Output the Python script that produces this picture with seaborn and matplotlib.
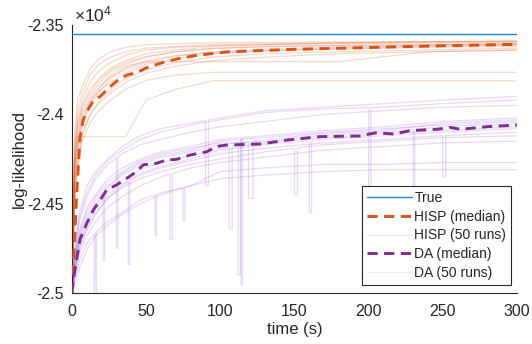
import numpy as np
import pandas as pd
import matplotlib
matplotlib.use("Agg")
import matplotlib.pyplot as plt
from matplotlib.lines import Line2D
from matplotlib.ticker import FuncFormatter
import seaborn as sns

# ---------------- data (log-likelihood in units of 1e4) ----------------
TRUE_LL = -2.3550

HISP_MED_T = [0, 1, 2, 3, 4.3, 5.4, 7.6, 11, 14, 19, 25, 30, 37, 44, 50, 62, 71, 84, 105, 150, 195, 240, 300]
HISP_MED_V = [-2.49, -2.482, -2.466, -2.448, -2.429, -2.413, -2.403, -2.397, -2.393, -2.390, -2.385, -2.3815,
              -2.378, -2.3765, -2.374, -2.3708, -2.369, -2.367, -2.365, -2.3636, -2.3627, -2.3618, -2.3608]

DA_MED_T = [0, 1, 5.4, 10, 14.4, 19, 23.4, 30, 37, 43.6, 48, 57, 64, 70.5, 80, 91, 97.6, 104, 127, 145,
            167, 194, 205, 217, 228, 246, 255, 262, 280, 300]
DA_MED_V = [-2.50, -2.492, -2.470, -2.461, -2.4535, -2.448, -2.4423, -2.4395, -2.4358, -2.432, -2.4283,
            -2.4274, -2.4255, -2.4252, -2.4227, -2.4209, -2.418, -2.4172, -2.4166, -2.4144, -2.4125, -2.4121,
            -2.4103, -2.411, -2.4091, -2.4084, -2.4073, -2.4084, -2.4069, -2.406]

HISP_RUN_T = [0, 1, 2, 4, 7, 12, 18, 26, 36, 50, 70, 95, 130, 180, 240, 300]
HISP_RUNS = [
    [-2.488, -2.452, -2.420, -2.405, -2.395, -2.386, -2.380, -2.374, -2.370, -2.366, -2.364, -2.362, -2.361, -2.360, -2.3595, -2.359],
    [-2.492, -2.470, -2.440, -2.425, -2.410, -2.400, -2.393, -2.386, -2.380, -2.375, -2.371, -2.368, -2.366, -2.365, -2.364, -2.363],
    [-2.485, -2.445, -2.412, -2.398, -2.388, -2.378, -2.372, -2.368, -2.365, -2.363, -2.362, -2.361, -2.3605, -2.360, -2.3595, -2.3592],
    [-2.495, -2.475, -2.450, -2.430, -2.415, -2.405, -2.398, -2.392, -2.386, -2.381, -2.378, -2.3765, -2.3765, -2.3765, -2.3765, -2.3765],
    [-2.490, -2.460, -2.430, -2.4125, -2.4125, -2.4125, -2.4125, -2.4125, -2.4125, -2.392, -2.386, -2.3812, -2.3812, -2.3812, -2.3812, -2.3812],
    [-2.490, -2.455, -2.425, -2.410, -2.398, -2.390, -2.383, -2.376, -2.372, -2.368, -2.365, -2.363, -2.362, -2.3615, -2.361, -2.3605],
    [-2.487, -2.448, -2.418, -2.402, -2.392, -2.382, -2.376, -2.371, -2.367, -2.364, -2.3625, -2.3615, -2.361, -2.3605, -2.360, -2.3598],
    [-2.493, -2.468, -2.438, -2.420, -2.405, -2.396, -2.388, -2.380, -2.374, -2.370, -2.367, -2.3655, -2.3645, -2.3635, -2.3625, -2.362],
    [-2.490, -2.460, -2.432, -2.416, -2.402, -2.393, -2.386, -2.378, -2.373, -2.3705, -2.3705, -2.3705, -2.3705, -2.3705, -2.365, -2.364],
    [-2.486, -2.442, -2.408, -2.392, -2.384, -2.375, -2.369, -2.365, -2.3625, -2.361, -2.3605, -2.360, -2.3597, -2.3595, -2.3592, -2.359],
    [-2.494, -2.472, -2.445, -2.428, -2.412, -2.401, -2.394, -2.388, -2.382, -2.377, -2.373, -2.370, -2.368, -2.366, -2.365, -2.364],
    [-2.489, -2.458, -2.428, -2.412, -2.400, -2.392, -2.385, -2.379, -2.375, -2.371, -2.3675, -2.365, -2.3635, -2.3625, -2.3615, -2.361],
    [-2.491, -2.465, -2.435, -2.418, -2.404, -2.394, -2.387, -2.382, -2.377, -2.372, -2.369, -2.366, -2.3645, -2.363, -2.362, -2.3612],
    [-2.488, -2.450, -2.422, -2.406, -2.396, -2.388, -2.381, -2.375, -2.371, -2.3675, -2.365, -2.3632, -2.3622, -2.3615, -2.361, -2.3605],
]

DA_RUN_T = [0, 2, 5, 10, 16, 24, 34, 46, 60, 80, 100, 130, 170, 210, 250, 300]
DA_RUNS = [
    [-2.50, -2.475, -2.455, -2.440, -2.432, -2.425, -2.418, -2.412, -2.408, -2.405, -2.402, -2.398, -2.396, -2.394, -2.392, -2.390],
    [-2.50, -2.492, -2.482, -2.472, -2.466, -2.460, -2.455, -2.448, -2.444, -2.440, -2.432, -2.430, -2.428, -2.428, -2.427, -2.427],
    [-2.50, -2.480, -2.465, -2.452, -2.445, -2.436, -2.430, -2.425, -2.421, -2.418, -2.414, -2.412, -2.409, -2.407, -2.404, -2.402],
    [-2.50, -2.488, -2.474, -2.465, -2.456, -2.447, -2.440, -2.434, -2.430, -2.426, -2.422, -2.419, -2.416, -2.414, -2.412, -2.410],
    [-2.50, -2.482, -2.468, -2.456, -2.448, -2.440, -2.433, -2.427, -2.423, -2.420, -2.415, -2.413, -2.410, -2.408, -2.406, -2.404],
    [-2.50, -2.490, -2.478, -2.468, -2.460, -2.452, -2.446, -2.440, -2.435, -2.430, -2.427, -2.424, -2.420, -2.418, -2.416, -2.415],
    [-2.50, -2.478, -2.460, -2.446, -2.436, -2.428, -2.422, -2.417, -2.414, -2.410, -2.407, -2.404, -2.400, -2.398, -2.396, -2.395],
    [-2.50, -2.486, -2.471, -2.460, -2.451, -2.443, -2.437, -2.431, -2.427, -2.423, -2.419, -2.416, -2.413, -2.411, -2.409, -2.407],
    [-2.50, -2.494, -2.486, -2.476, -2.468, -2.462, -2.456, -2.450, -2.445, -2.440, -2.436, -2.434, -2.432, -2.431, -2.431, -2.431],
    [-2.50, -2.484, -2.469, -2.458, -2.450, -2.441, -2.434, -2.428, -2.424, -2.421, -2.417, -2.4145, -2.4105, -2.409, -2.405, -2.403],
    [-2.50, -2.489, -2.476, -2.464, -2.455, -2.447, -2.441, -2.436, -2.432, -2.428, -2.425, -2.421, -2.417, -2.415, -2.413, -2.412],
    [-2.50, -2.476, -2.458, -2.444, -2.434, -2.426, -2.420, -2.414, -2.410, -2.406, -2.403, -2.399, -2.397, -2.396, -2.394, -2.392],
    [-2.50, -2.487, -2.473, -2.462, -2.453, -2.445, -2.439, -2.433, -2.429, -2.425, -2.420, -2.417, -2.414, -2.412, -2.410, -2.408],
    [-2.50, -2.481, -2.466, -2.454, -2.446, -2.438, -2.432, -2.426, -2.422, -2.419, -2.416, -2.4155, -2.4115, -2.410, -2.407, -2.405],
]

# temporary downward excursions of the DA chains: run index, start time, duration, low value
DA_SPIKE_RUN = [1, 3, 5, 7, 2, 9, 10, 12, 4, 6, 8, 11, 13, 0, 3, 1, 9]
DA_SPIKE_T = [15, 38, 66, 106, 114, 119, 150, 160, 112, 30, 75, 200, 230, 90, 250, 56, 21]
DA_SPIKE_DT = [1.5, 1.0, 1.5, 2.0, 1.0, 3.0, 2.0, 1.5, 1.5, 1.0, 1.0, 1.5, 1.0, 2.0, 2.0, 1.0, 1.0]
DA_SPIKE_LOW = [-2.50, -2.484, -2.470, -2.464, -2.4955, -2.447, -2.445, -2.455, -2.490, -2.475, -2.460,
                -2.440, -2.440, -2.440, -2.435, -2.468, -2.482]

X_TICKS = [0, 50, 100, 150, 200, 250, 300]
Y_TICKS = [-2.5, -2.45, -2.4, -2.35]

ORANGE = "#D95319"
PURPLE = "#7E2F8E"
BLUE = "#1F86D6"
RUN_PURPLE = "#8E44D8"
AXC = "#262626"


def build_runs(times, runs, spikes=None):
    rows = []
    for i, vals in enumerate(runs):
        pts = [(t, v, 0) for t, v in zip(times, vals)]
        if spikes is not None:
            for r, t0, dt, low in spikes:
                if r != i:
                    continue
                base0 = float(np.interp(t0, times, vals))
                base1 = float(np.interp(t0 + dt, times, vals))
                pts += [(t0, base0, 1), (t0, low, 2), (t0 + dt, low, 3), (t0 + dt, base1, 4)]
        pts.sort(key=lambda p: (p[0], p[2]))
        for t, v, _ in pts:
            rows.append((i, t, v))
    return pd.DataFrame(rows, columns=["run", "t", "v"])


hisp_df = build_runs(HISP_RUN_T, HISP_RUNS)
da_df = build_runs(DA_RUN_T, DA_RUNS,
                   list(zip(DA_SPIKE_RUN, DA_SPIKE_T, DA_SPIKE_DT, DA_SPIKE_LOW)))
hisp_med = pd.DataFrame({"t": HISP_MED_T, "v": HISP_MED_V})
da_med = pd.DataFrame({"t": DA_MED_T, "v": DA_MED_V})
true_df = pd.DataFrame({"t": [X_TICKS[0], X_TICKS[-1]], "v": [TRUE_LL, TRUE_LL]})

# ---------------- style ----------------
sns.set_theme(style="white")
plt.rcParams["font.family"] = ["Liberation Sans", "DejaVu Sans"]
plt.rcParams["mathtext.default"] = "regular"

fig = plt.figure(figsize=(5.32, 3.44), dpi=100)
ax = fig.add_axes([0.1353, 0.1483, 0.8365, 0.779])

sns.lineplot(data=hisp_df, x="t", y="v", units="run", estimator=None, sort=False,
             color=ORANGE, alpha=0.22, lw=0.9, legend=False, ax=ax)
sns.lineplot(data=da_df, x="t", y="v", units="run", estimator=None, sort=False,
             color=RUN_PURPLE, alpha=0.2, lw=0.9, legend=False, ax=ax)
sns.lineplot(data=true_df, x="t", y="v", sort=False, color=BLUE, lw=1.0, ax=ax, zorder=5)
sns.lineplot(data=hisp_med, x="t", y="v", sort=False, color=ORANGE, lw=2.1,
             ax=ax, zorder=6).lines[-1].set_dashes([3.5, 2.2])
sns.lineplot(data=da_med, x="t", y="v", sort=False, color=PURPLE, lw=2.1,
             ax=ax, zorder=6).lines[-1].set_dashes([3.5, 2.2])

ax.set_xlim(X_TICKS[0], X_TICKS[-1])
ax.set_ylim(Y_TICKS[0], Y_TICKS[-1])
ax.set_xticks(X_TICKS)
ax.set_yticks(Y_TICKS)
ax.yaxis.set_major_formatter(FuncFormatter(lambda v, p: f"{v:g}"))
ax.tick_params(direction="in", length=4, width=0.7, colors=AXC, labelsize=11.5)
ax.tick_params(axis="x", pad=8)
ax.tick_params(axis="y", pad=6)
for s in ["top", "right"]:
    ax.spines[s].set_visible(False)
for s in ["left", "bottom"]:
    ax.spines[s].set_color(AXC)
    ax.spines[s].set_linewidth(0.8)

ax.set_xlabel("time (s)", fontsize=12, color=AXC, labelpad=2)
ax.set_ylabel("log-likelihood", fontsize=12, color=AXC, labelpad=0)
fig.text(0.139, 0.928, r"$\times10^{4}$", fontsize=12.5, color=AXC, ha="left", va="bottom")

handles = [
    Line2D([], [], color=BLUE, lw=1.0),
    Line2D([], [], color=ORANGE, lw=2.1, dashes=[3.5, 2.2]),
    Line2D([], [], color=ORANGE, lw=0.8, alpha=0.12),
    Line2D([], [], color=PURPLE, lw=2.1, dashes=[3.5, 2.2]),
    Line2D([], [], color=RUN_PURPLE, lw=0.8, alpha=0.12),
]
labels = ["True", "HISP (median)", "HISP (50 runs)", "DA (median)", "DA (50 runs)"]
leg = ax.legend(handles, labels, loc="lower right", bbox_to_anchor=(0.987, 0.03),
                fontsize=10, frameon=True, fancybox=False, framealpha=1,
                edgecolor=AXC, handlelength=3.3, handletextpad=0.15,
                borderpad=0.35, labelspacing=0.35, borderaxespad=0)
leg.get_frame().set_linewidth(0.8)
leg.set_zorder(10)

fig.savefig("out.png", dpi=100)
